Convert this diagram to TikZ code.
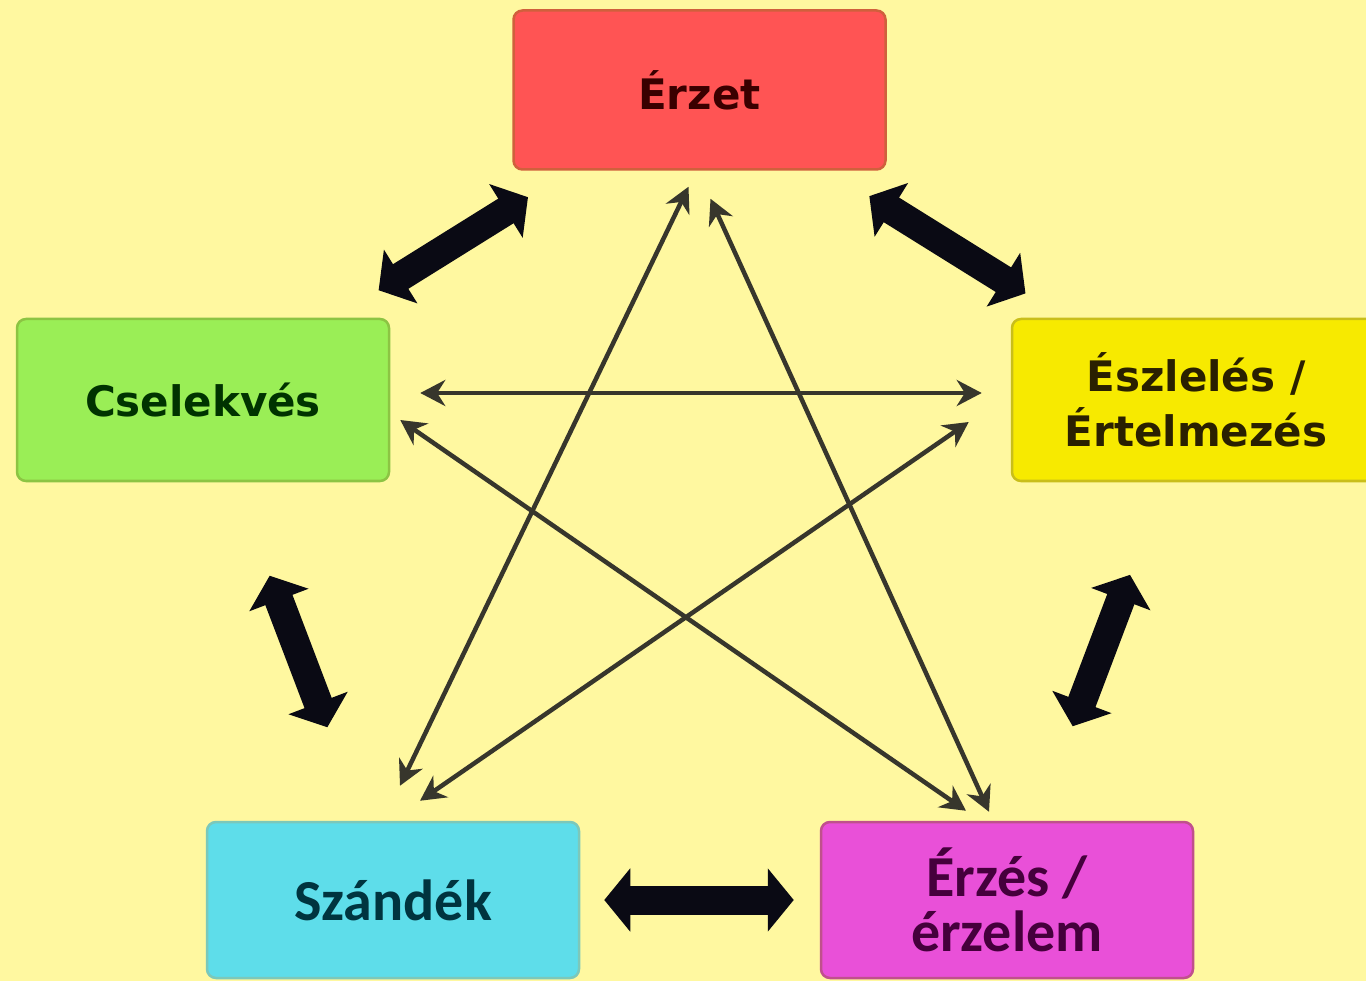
\documentclass[tikz,border=0pt]{standalone}
\usepackage{fontspec}
\newfontfamily\dv{DejaVu Sans}
\newfontfamily\cb{Carlito}
\usetikzlibrary{arrows.meta,calc}
\definecolor{bg}{HTML}{FFF8A0}
\definecolor{redf}{HTML}{FF5454}
\definecolor{redd}{HTML}{D0603C}
\definecolor{redt}{HTML}{3A0000}
\definecolor{grnf}{HTML}{9AEE56}
\definecolor{grnd}{HTML}{8CC443}
\definecolor{grnt}{HTML}{003300}
\definecolor{yelf}{HTML}{F7EA00}
\definecolor{yeld}{HTML}{C9BE1A}
\definecolor{yelt}{HTML}{2A2000}
\definecolor{cynf}{HTML}{5EDDEA}
\definecolor{cynd}{HTML}{7CC8BA}
\definecolor{cynt}{HTML}{00343F}
\definecolor{magf}{HTML}{E950D8}
\definecolor{magd}{HTML}{C0508C}
\definecolor{magt}{HTML}{45003C}
\definecolor{fatc}{HTML}{0A0A14}
\definecolor{thinc}{HTML}{37362C}
\begin{document}
\begin{tikzpicture}[x=1pt,y=-1pt,
  box/.style={draw, line width=2.5pt, rounded corners=9pt, minimum width=372pt, minimum height=159pt, inner sep=0pt, align=center},
  vtxt/.style={font=\dv\bfseries\fontsize{42}{55}\selectfont},
  ctxt/.style={font=\cb\bfseries\fontsize{58}{55}\selectfont},
  fat/.style={line width=29pt, draw=fatc, {Triangle[length=26pt,width=62pt]}-{Triangle[length=26pt,width=62pt]}},
  thin/.style={line width=4.5pt, draw=thinc, {Stealth[length=25pt,width=26pt]}-{Stealth[length=25pt,width=26pt]}}]
\useasboundingbox (0,0) rectangle (1366,981);
\fill[bg] (0,0) rectangle (1366,981);

\node[box, vtxt, fill=redf, draw=redd, text=redt] (erzet) at (699.5,90) {Érzet};
\node[box, vtxt, fill=grnf, draw=grnd, text=grnt, minimum height=162pt] (csel) at (203,400) {Cselekvés};
\node[box, vtxt, fill=yelf, draw=yeld, text=yelt, minimum width=368pt, minimum height=162pt] (eszl) at (1196,400) {Észlelés /\\Értelmezés};
\node[box, ctxt, fill=cynf, draw=cynd, text=cynt, minimum height=156pt] (szandek) at (393,900) {Szándék};
\node[box, ctxt, fill=magf, draw=magd, text=magt, minimum height=156pt] (erzes) at (1007,900) {Érzés /\\érzelem};

% thick arrows between neighbours
\draw[fat, shorten <=50pt, shorten >=52pt] (erzet) -- (csel);
\draw[fat, shorten <=48pt, shorten >=46pt] (erzet) -- (eszl);
\draw[fat, shorten <=100pt, shorten >=100pt] (csel) -- (szandek);
\draw[fat, shorten <=99pt, shorten >=101pt] (eszl) -- (erzes);
\draw[fat, shorten <=24pt, shorten >=26pt] (szandek) -- (erzes);

% thin arrows (star)
\draw[thin] ($(erzet.south)+(-11,16)$) -- ($(szandek.north)+(7,-35)$);
\draw[thin] ($(erzet.south)+(11,28)$) -- ($(erzes.north)+(-18,-9)$);
\draw[thin] ($(csel.east)+(30,-7)$) -- ($(eszl.west)+(-29,-7)$);
\draw[thin] ($(csel.east)+(10,20)$) -- ($(erzes.north)+(-41,-10)$);
\draw[thin] ($(eszl.west)+(-42,22)$) -- ($(szandek.north)+(27,-20)$);
\end{tikzpicture}
\end{document}
